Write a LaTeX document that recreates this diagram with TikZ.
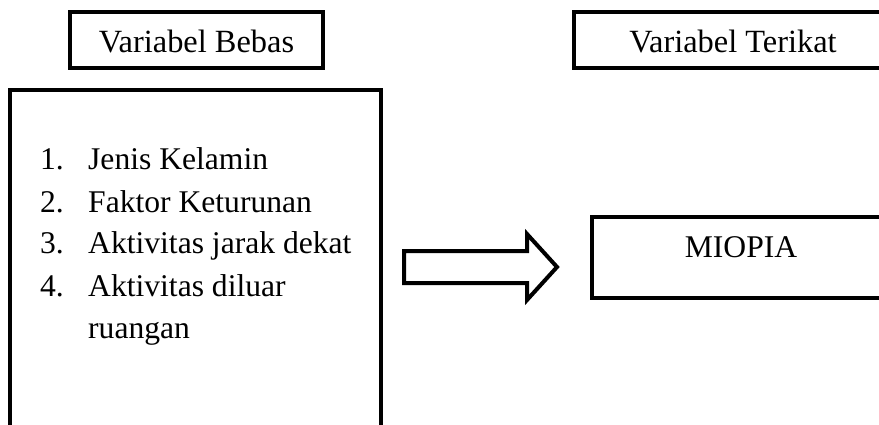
\documentclass[tikz,border=0pt]{standalone}
\usepackage{fontspec}
\setmainfont{Liberation Serif}
\begin{document}
\begin{tikzpicture}[x=1pt,y=-1pt,
  frame/.style={draw=black,line width=4pt,inner sep=0pt,outer sep=0pt},
  txt/.style={font=\fontsize{31.6}{42}\selectfont,inner sep=0pt},
  head/.style={frame,font=\fontsize{32.4}{42}\selectfont,anchor=north west,
               minimum height=56pt,text height=26pt,text depth=0pt},
  item/.style={txt,anchor=base west}]
\useasboundingbox (0,0) rectangle (879,425);
\begin{scope}
\clip (0,0) rectangle (879,425);
% headings
\node[head,minimum width=253pt] (bebas) at (70,12) {Variabel Bebas};
\node[head,minimum width=318pt] (terikat) at (574,12) {Variabel Terikat};
% independent variables box
\node[frame,anchor=north west,minimum width=371pt,minimum height=380pt] (bebasbox) at (10,90) {};
\node[item] (n1) at (40,170) {1.};
\node[item] (t1) at (88,170) {Jenis Kelamin};
\node[item] (n2) at (40,212) {2.};
\node[item] (t2) at (88,212) {Faktor Keturunan};
\node[item] (n3) at (40,254) {3.};
\node[item] (t3) at (88,254) {Aktivitas jarak dekat};
\node[item] (n4) at (40,296) {4.};
\node[item] (t4) at (88,296) {Aktivitas diluar};
\node[item] (t5) at (88,338) {ruangan};
% dependent variable box
\node[frame,txt,anchor=north west,minimum width=298pt,minimum height=81pt,
      text height=10pt,text depth=9pt] (miopia) at (592,217) {MIOPIA};
% block arrow
\draw[line width=4pt,line join=miter]
  (404,251) -- (527,251) -- (527,234) -- (557,267) -- (527,300) -- (527,283) -- (404,283) -- cycle;
\end{scope}
\end{tikzpicture}
\end{document}
